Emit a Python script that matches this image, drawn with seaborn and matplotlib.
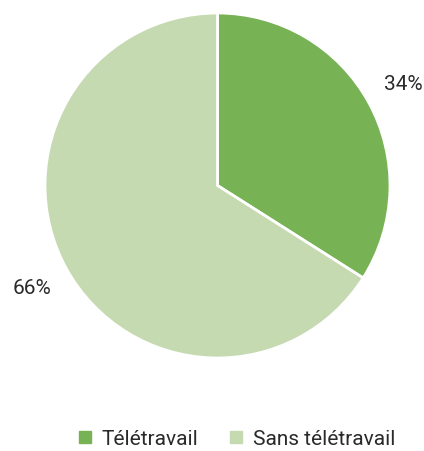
import matplotlib
matplotlib.use("Agg")
import matplotlib.pyplot as plt
from matplotlib.lines import Line2D
import seaborn as sns

# données
categories = ["Télétravail", "Sans télétravail"]
valeurs = [34, 66]
couleurs = ["#77b255", "#c5dab1"]

sns.set_theme(style="white")
plt.rcParams['font.family'] = ['Roboto', 'DejaVu Sans']

fig = plt.figure(figsize=(4.24, 4.52), dpi=100)
ax = fig.add_axes([45 / 424, (452 - 359) / 452, 345 / 424, 345 / 452])

wedges, textes, pcts = ax.pie(
    valeurs,
    colors=couleurs,
    startangle=90,
    counterclock=False,
    autopct="%d%%",
    pctdistance=1.23,
    wedgeprops={"edgecolor": "white", "linewidth": 2},
    textprops={"fontsize": 15, "color": "#2a2a2a"},
)
ax.set_xlim(-1, 1)
ax.set_ylim(-1, 1)
ax.set_aspect("equal")

# légende en bas
handles = [Line2D([0], [0], marker="s", linestyle="", markersize=9,
                  markerfacecolor=c, markeredgecolor=c) for c in couleurs]
fig.legend(handles, categories, loc="center", bbox_to_anchor=(0.555, 0.027),
           ncol=2, frameon=False, fontsize=15, handletextpad=0.35,
           columnspacing=1.4, handlelength=0.9, labelcolor="#2a2a2a")

fig.savefig("out.png", dpi=100)
